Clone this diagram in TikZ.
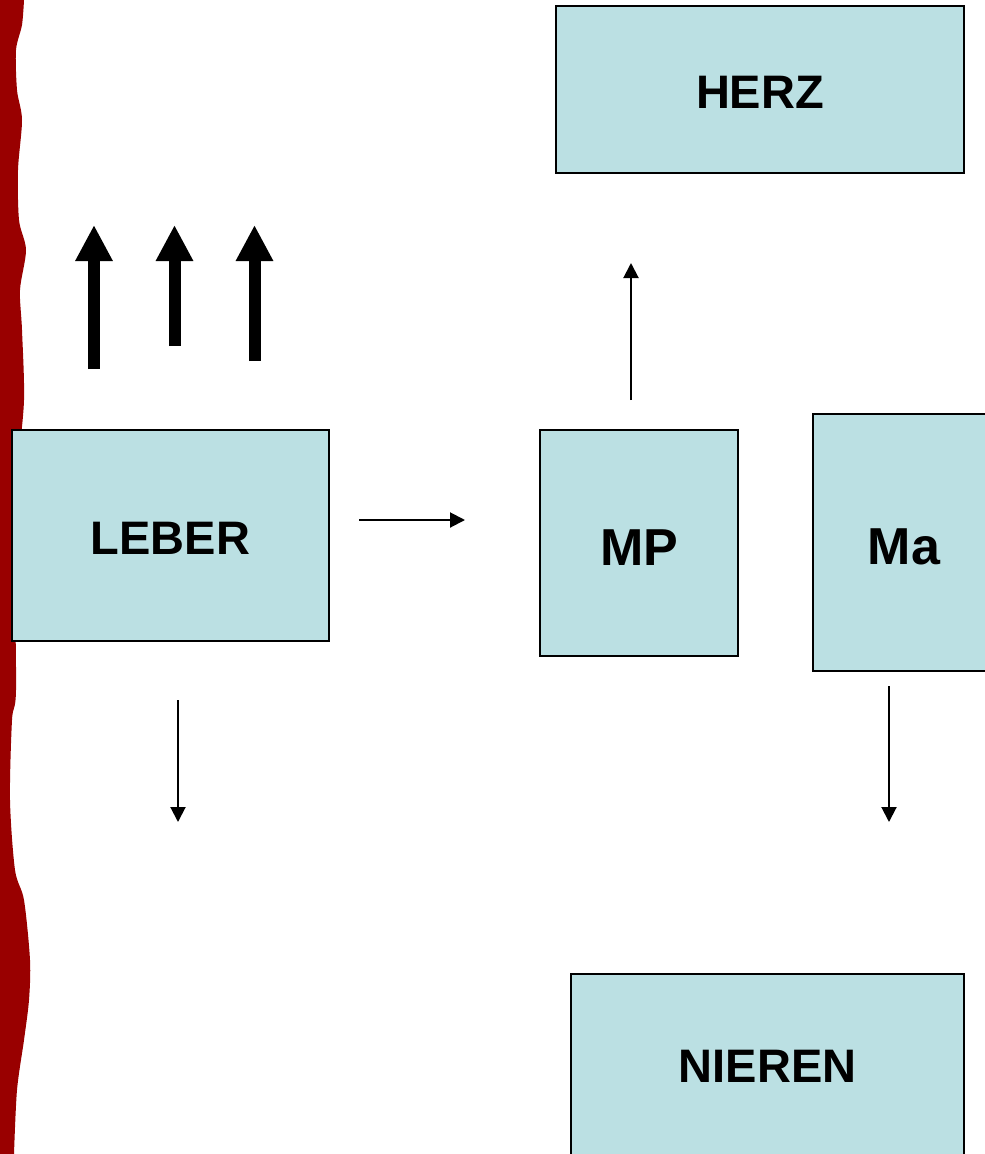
\documentclass[tikz,border=0pt]{standalone}
\usepackage{fontspec}
\setmainfont{Liberation Sans}
\usetikzlibrary{arrows.meta}
\definecolor{organfill}{RGB}{187,224,227}
\definecolor{randrot}{RGB}{153,0,0}

\begin{document}
\begin{tikzpicture}[x=1pt,y=-1pt,
        organ/.style={draw=black,line width=1.5pt,fill=organfill,inner sep=0pt,
          font=\fontsize{47}{56}\selectfont\bfseries},
        organgross/.style={organ,font=\fontsize{52}{62}\selectfont\bfseries,text height=44pt},
        pfeil/.style={line width=2pt,-{Triangle[width=15pt,length=15pt]}},
        dickpfeil/.style={line width=12pt,-{Triangle[width=35pt,length=36pt]}}]
        \useasboundingbox (0,0) rectangle (985,1154);

        \fill[randrot] (0,0) -- plot[smooth] coordinates {(24,0) (22,25) (16,50) (17,90)
          (22,120) (18,170) (19,220) (26,250) (20,290) (22,330) (24,400) (18,470)
          (15,560) (16,690) (12,720) (10,800) (15,870) (24,900) (30,960) (29,1000)
          (24,1040) (17,1090) (14,1154)} -- (0,1154) -- cycle;

        \node[organ, text height=37pt, minimum width=408pt, minimum height=167pt] (herz) at (760,89.5) {HERZ};
        \node[organ, text height=37pt, minimum width=317pt, minimum height=211pt] (leber) at (170.5,535.5) {LEBER};
        \node[organgross, minimum width=198pt, minimum height=226pt] (mp) at (639,543) {MP};
        \node[organgross, minimum width=182pt, minimum height=257pt] (ma) at (904,542.5) {Ma};
        \node[organ, minimum width=393pt, minimum height=184pt] (nieren) at (767.5,1066) {NIEREN};

        \foreach \x/\y [count=\i] in {94/369,174.5/346,254.5/361} {
          \coordinate (auf\i) at (\x,\y);
          \coordinate (auf\i spitze) at (\x,225);
          \draw[dickpfeil] (auf\i) -- (auf\i spitze);
        }

        \coordinate (lm) at (359,520);
        \coordinate (lmspitze) at (465,520);
        \coordinate (mh) at (631,400);
        \coordinate (mhspitze) at (631,263);
        \coordinate (lu) at (178,700);
        \coordinate (luspitze) at (178,822);
        \coordinate (mu) at (889,686);
        \coordinate (muspitze) at (889,822);

        \draw[pfeil] (lm) -- (lmspitze);
        \draw[pfeil] (mh) -- (mhspitze);
        \draw[pfeil] (lu) -- (luspitze);
        \draw[pfeil] (mu) -- (muspitze);
      \end{tikzpicture}
\end{document}
